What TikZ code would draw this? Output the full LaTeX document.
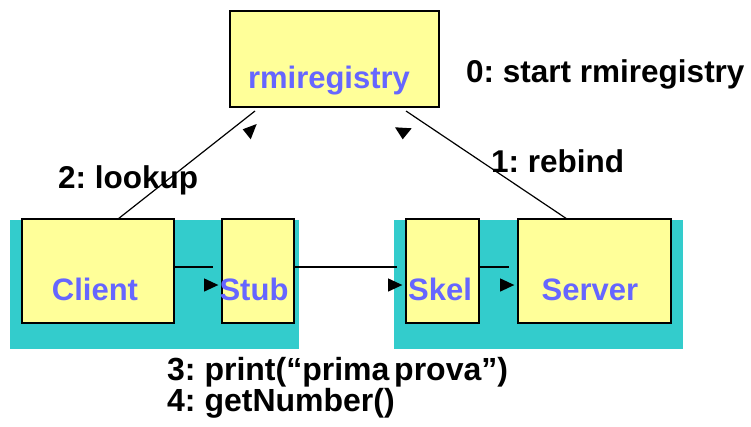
\documentclass[tikz,border=0pt]{standalone}
\usepackage{fontspec}
\setmainfont{Liberation Sans}
\frenchspacing
\definecolor{boxyellow}{HTML}{FFFF99}
\definecolor{tealbg}{HTML}{33CCCC}
\definecolor{labelblue}{HTML}{6666FF}
\begin{document}
\begin{tikzpicture}[x=1pt,y=-1pt,
  panel/.style={fill=tealbg, draw=none},
  box/.style={draw=black, fill=boxyellow, line width=1.4pt, inner sep=0pt, outer sep=0pt},
  boxlabel/.style={text=labelblue, font=\fontsize{31}{31}\selectfont\bfseries, anchor=base, inner sep=0pt},
  steplabel/.style={text=black, font=\fontsize{31.5}{31.5}\selectfont\bfseries\frenchspacing, anchor=base west, inner sep=0pt},
  calllabel/.style={text=black, font=\fontsize{32}{32}\selectfont\bfseries\frenchspacing, anchor=base west, inner sep=0pt},
  conn/.style={draw=black, line width=1.2pt},
  tip/.style={fill=black, draw=none}]
\useasboundingbox (0,0) rectangle (751,426);
% teal panels
\fill[panel] (10,220) rectangle (299,349);
\fill[panel] (394,220) rectangle (683,349);
% boxes
\node[box, minimum width=209pt, minimum height=96pt] (reg) at (334.5,59) {};
\node[box, minimum width=152pt, minimum height=104pt] (client) at (98,271) {};
\node[box, minimum width=72pt, minimum height=104pt] (stub) at (258,271) {};
\node[box, minimum width=73pt, minimum height=104pt] (skel) at (442.5,271) {};
\node[box, minimum width=153pt, minimum height=104pt] (server) at (594.5,271) {};
% box labels
\node[boxlabel] (regtxt) at (329,88) {rmiregistry};
\node[boxlabel] (clienttxt) at (95,300) {Client};
\node[boxlabel] (stubtxt) at (254,300) {Stub};
\node[boxlabel] (skeltxt) at (440,300) {Skel};
\node[boxlabel] (servertxt) at (590,300) {Server};
% connectors to registry
\draw[conn] ([xshift=96pt]client.north west) -- ([xshift=25pt,yshift=-4pt]reg.south west);
\draw[conn] ([xshift=49pt]server.north west) -- ([xshift=-33pt,yshift=-4pt]reg.south east);
% misplaced arrowheads near registry
\fill[tip] (242.7,129.3) -- (256.7,124) -- (250.7,139.3) -- cycle;
\fill[tip] (395,127.3) -- (411.7,128.3) -- (402.7,139.3) -- cycle;
% horizontal connectors
\draw[conn] ([yshift=4pt]client.east) -- ([xshift=-9pt,yshift=4pt]stub.west);
\draw[conn] ([yshift=4pt]stub.east) -- ([xshift=-9pt,yshift=4pt]skel.west);
\draw[conn] ([yshift=4pt]skel.east) -- ([xshift=-9pt,yshift=4pt]server.west);
% arrowheads
\foreach \n in {stub,skel,server}{
  \fill[tip] ([xshift=-18pt,yshift=-7.3pt]\n.west) -- ([xshift=-18pt,yshift=-20.7pt]\n.west) -- ([xshift=-3.7pt,yshift=-14pt]\n.west) -- cycle;
}
% step labels
\node[steplabel] (s0) at (466,82) {0: start rmiregistry};
\node[steplabel] (s1) at (491,172) {1: rebind};
\node[steplabel] (s2) at (58,188) {2: lookup};
\node[calllabel] (s3) at (167,380) {3: print(“prima\hspace{0.15em}prova”)};
\node[calllabel] (s4) at (167,411) {4: getNumber()};
\end{tikzpicture}
\end{document}
